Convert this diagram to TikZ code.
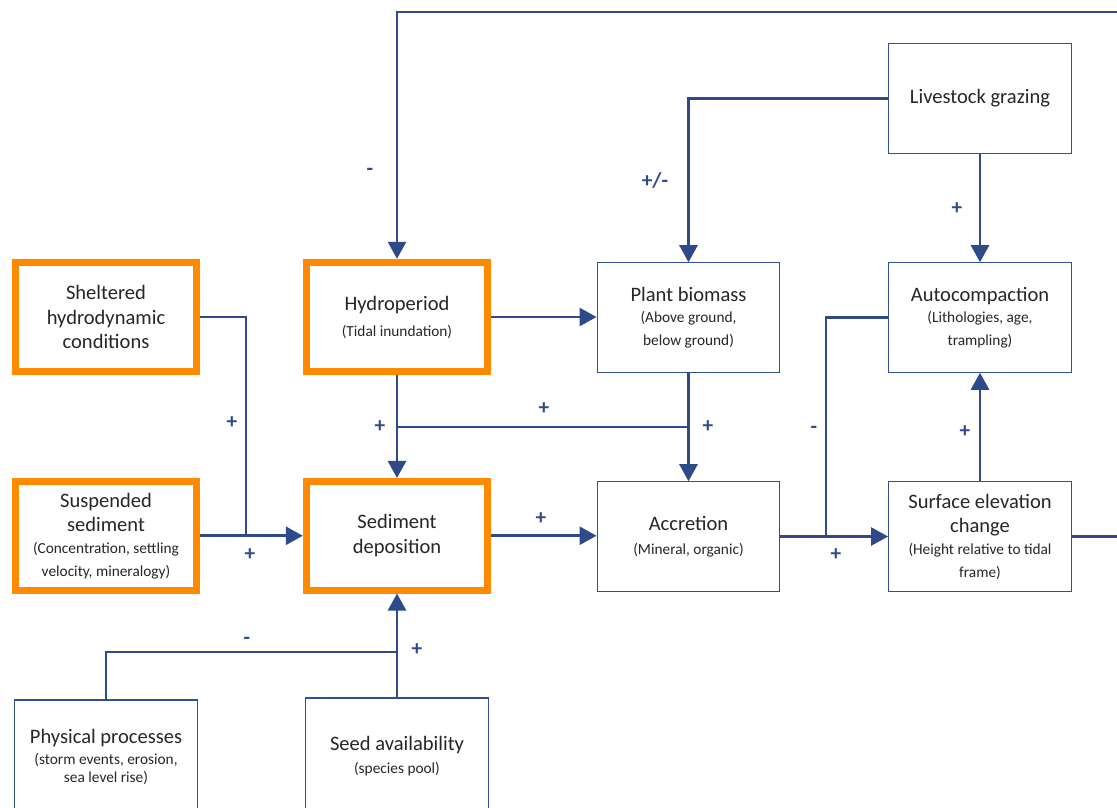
\documentclass[tikz,border=0pt]{standalone}
\usepackage{fontspec}
\setmainfont{Carlito}
\usetikzlibrary{arrows.meta}
\definecolor{lineblue}{HTML}{2F4A8A}
\definecolor{boxblue}{HTML}{2F528F}
\definecolor{orangeb}{HTML}{FF8A00}
\definecolor{txt}{HTML}{262626}
\newcommand\mainsz{\fontsize{15.4}{18.4}\selectfont}
\newcommand\subsz{\fontsize{11.5}{16.5}\selectfont}
\begin{document}
\begin{tikzpicture}[x=0.75pt,y=-0.75pt,
 box/.style={draw=boxblue, line width=0.9pt, fill=white, align=center, text=txt, inner sep=0pt, minimum width=137pt, minimum height=82pt, font=\mainsz},
 obox/.style={box, draw=orangeb, line width=5.25pt, minimum width=136pt, minimum height=82pt},
 conn/.style={draw=lineblue, line width=2pt},
 arr/.style={conn, -{Triangle[width=13.5pt,length=12.75pt]}},
 lab/.style={text=lineblue, font=\bfseries\fontsize{16}{16}\selectfont, inner sep=0pt}
]
\useasboundingbox (0,0) rectangle (1117,807);
\clip (0,0) rectangle (1117,807);

% boxes
\node[obox] (shelt) at (106,317) {Sheltered\\hydrodynamic\\conditions};
\node[obox, minimum height=81.4pt] (susp) at (106,535.75) {Suspended\\sediment\\[-2pt]{\subsz(Concentration, settling}\\[-1.5pt]{\subsz velocity, mineralogy)}};
\node[obox] (hydro) at (397,317) {Hydroperiod\\[1pt]{\subsz(Tidal inundation)}};
\node[obox, minimum height=81.4pt] (sed) at (397,535.75) {Sediment\\deposition};
\node[box] (plant) at (688.5,317.5) {Plant biomass\\[-2pt]{\subsz(Above ground,}\\[-1.5pt]{\subsz below ground)}};
\node[box] (accr) at (688.5,536.5) {Accretion\\{\subsz(Mineral, organic)}};
\node[box] (live) at (980,98.5) {Livestock grazing};
\node[box] (auto) at (980,317.5) {Autocompaction\\[-2pt]{\subsz(Lithologies, age,}\\[-1.5pt]{\subsz trampling)}};
\node[box] (surf) at (980,536.5) {Surface elevation\\change\\[-2pt]{\subsz(Height relative to tidal}\\[-1.5pt]{\subsz frame)}};
\node[box, minimum height=85.5pt] (phys) at (106,757) {Physical processes\\[-3pt]{\subsz(storm events, erosion,}\\[-4.5pt]{\subsz sea level rise)}};
\node[box, minimum height=87pt] (seed) at (397,756) {Seed availability\\[-1.5pt]{\subsz(species pool)}};

% junction coordinates
\coordinate (jtop) at (1135,12);
\coordinate (jright) at (1135,536.5);
\coordinate (jmid) at (397,427);
\coordinate (jsh) at (246,535.75);
\coordinate (jau) at (826,536.5);
\coordinate (jph) at (397,652);

% connectors
\draw[arr] (hydro.south) -- (sed.north);
\draw[arr] (plant.south) -- (accr.north);
\draw[conn] (jmid) -- (jmid -| plant.south);
\draw[arr] (hydro.east) -- (hydro.east -| plant.west);
\draw[arr] (sed.east) -- (sed.east -| accr.west);
\draw[arr] (susp.east) -- (susp.east -| sed.west);
\draw[conn] (shelt.east) -| (jsh);
\draw[arr] (accr.east) -- (surf.west);
\draw[conn] (auto.west) -| (jau);
\draw[arr] (surf.north) -- (auto.south);
\draw[arr] (live.south) -- (auto.north);
\draw[arr] (live.west) -| (plant.north);
\draw[arr] (surf.east) -- (jright) -- (jtop) -| (hydro.north);
\draw[arr] (seed.north) -- (sed.south);
\draw[conn] (phys.north) |- (jph);

% labels
\node[lab] (l1) at (370,172) {-};
\node[lab] (l2) at (655,180) {+/-};
\node[lab] (l3) at (957,209) {+};
\node[lab] (l4) at (965,432) {+};
\node[lab] (l5) at (814,430) {-};
\node[lab] (l6) at (836,555) {+};
\node[lab] (l7) at (708,427) {+};
\node[lab] (l8) at (380,427) {+};
\node[lab] (l9) at (544,409) {+};
\node[lab] (l10) at (232,423) {+};
\node[lab] (l11) at (250,555) {+};
\node[lab] (l12) at (541,519) {+};
\node[lab] (l13) at (417,650) {+};
\node[lab] (l14) at (247,641) {-};
\end{tikzpicture}
\end{document}
